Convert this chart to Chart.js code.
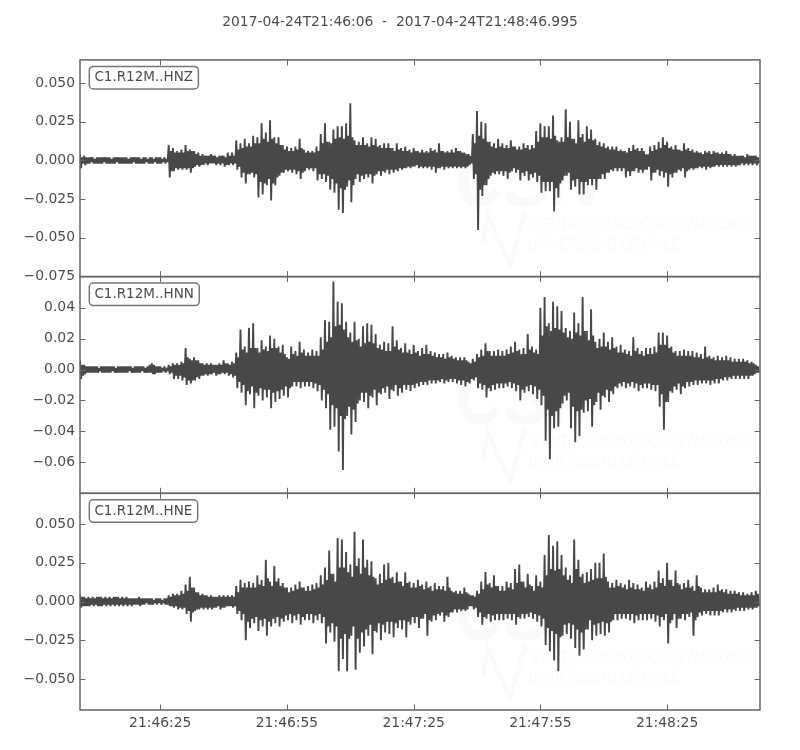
<!DOCTYPE html>
<html>
<head>
<meta charset="utf-8">
<style>
  html, body { margin: 0; padding: 0; background: #fff; }
  canvas { display: block; }
</style>
<script src="https://cdn.jsdelivr.net/npm/chart.js@4/dist/chart.umd.min.js"></script>
</head>
<body>
<div style="width:800px;height:750px"><canvas id="traces" width="800" height="750"></canvas></div>
<script>
const titleText = "2017-04-24T21:46:06  -  2017-04-24T21:48:46.995";
const traceNames = ["C1.R12M..HNZ", "C1.R12M..HNN", "C1.R12M..HNE"];

// per second: the biggest up and down peak
const hnzUpper = [
  .004,.003,.002,.002,.002,.002,.002,.002,.002,.002,
  .002,.002,.002,.002,.002,.002,.001,.002,.002,.002,
  .002,.010,.008,.006,.007,.010,.007,.006,.005,.004,
  .003,.004,.003,.003,.003,.005,.005,.013,.011,.014,
  .011,.016,.015,.024,.018,.026,.015,.015,.010,.009,
  .008,.009,.014,.007,.006,.006,.009,.017,.024,.012,
  .020,.022,.022,.024,.037,.013,.012,.015,.011,.015,
  .014,.010,.011,.011,.008,.011,.008,.009,.007,.008,
  .006,.007,.006,.008,.007,.011,.006,.006,.007,.008,
  .006,.005,.004,.017,.032,.025,.024,.012,.011,.014,
  .011,.010,.013,.009,.009,.011,.010,.010,.019,.024,
  .022,.022,.029,.013,.015,.033,.025,.014,.026,.017,
  .022,.020,.014,.012,.011,.009,.009,.009,.007,.006,
  .008,.010,.008,.008,.004,.009,.010,.012,.015,.012,
  .009,.010,.007,.011,.008,.007,.006,.005,.006,.006,
  .006,.005,.005,.006,.004,.004,.003,.003,.004,.003,.003
];
const hnzLower = [
  -.005,-.003,-.002,-.002,-.002,-.002,-.002,-.002,-.002,-.002,
  -.002,-.002,-.002,-.002,-.002,-.002,-.002,-.002,-.002,-.002,
  -.002,-.011,-.007,-.006,-.006,-.006,-.008,-.004,-.004,-.003,
  -.003,-.002,-.003,-.003,-.004,-.003,-.003,-.006,-.011,-.015,
  -.009,-.011,-.024,-.022,-.016,-.026,-.016,-.010,-.008,-.007,
  -.008,-.009,-.012,-.007,-.006,-.007,-.013,-.012,-.014,-.019,
  -.021,-.032,-.034,-.017,-.027,-.012,-.014,-.012,-.011,-.015,
  -.009,-.010,-.008,-.009,-.008,-.007,-.006,-.005,-.005,-.004,
  -.005,-.005,-.005,-.006,-.008,-.005,-.006,-.005,-.005,-.005,
  -.005,-.005,-.003,-.012,-.045,-.023,-.016,-.010,-.009,-.009,
  -.010,-.012,-.007,-.008,-.013,-.010,-.013,-.011,-.014,-.021,
  -.020,-.020,-.033,-.024,-.013,-.010,-.019,-.017,-.022,-.022,
  -.016,-.016,-.019,-.012,-.012,-.008,-.007,-.007,-.007,-.011,
  -.010,-.007,-.008,-.008,-.006,-.013,-.008,-.010,-.011,-.017,
  -.011,-.008,-.007,-.011,-.006,-.006,-.005,-.005,-.006,-.005,
  -.004,-.004,-.004,-.004,-.004,-.004,-.003,-.003,-.003,-.003,-.003
];
const hnnUpper = [
  .006,.003,.002,.002,.002,.002,.002,.002,.002,.002,
  .002,.002,.002,.002,.002,.002,.002,.004,.002,.002,
  .002,.003,.004,.004,.005,.014,.007,.008,.006,.004,
  .004,.004,.003,.004,.006,.004,.005,.011,.026,.015,
  .027,.030,.014,.019,.015,.022,.020,.015,.016,.008,
  .015,.012,.018,.013,.011,.013,.012,.021,.032,.031,
  .057,.044,.043,.031,.024,.031,.020,.028,.030,.029,
  .023,.016,.018,.017,.028,.019,.014,.017,.013,.016,
  .012,.014,.016,.012,.011,.010,.010,.011,.009,.008,
  .008,.008,.005,.007,.010,.013,.017,.012,.012,.013,
  .012,.013,.015,.018,.013,.014,.023,.015,.013,.040,
  .047,.030,.044,.041,.038,.027,.025,.037,.030,.047,
  .025,.039,.018,.020,.024,.018,.021,.015,.016,.013,
  .012,.021,.014,.012,.014,.014,.015,.024,.024,.022,
  .015,.012,.012,.013,.012,.012,.011,.010,.015,.009,
  .008,.009,.008,.009,.008,.007,.007,.007,.006,.005,.003
];
const hnnLower = [
  -.006,-.003,-.002,-.002,-.002,-.002,-.002,-.002,-.002,-.002,
  -.002,-.002,-.002,-.002,-.002,-.002,-.002,-.003,-.002,-.002,
  -.002,-.003,-.006,-.006,-.007,-.010,-.009,-.007,-.006,-.004,
  -.004,-.003,-.004,-.003,-.003,-.004,-.005,-.012,-.015,-.023,
  -.016,-.025,-.017,-.020,-.018,-.025,-.021,-.019,-.017,-.018,
  -.011,-.011,-.012,-.011,-.011,-.012,-.014,-.020,-.025,-.039,
  -.037,-.053,-.065,-.030,-.042,-.034,-.020,-.021,-.025,-.018,
  -.023,-.016,-.015,-.019,-.014,-.017,-.015,-.013,-.014,-.012,
  -.011,-.010,-.010,-.009,-.009,-.008,-.009,-.008,-.008,-.009,
  -.010,-.011,-.009,-.007,-.012,-.013,-.018,-.014,-.013,-.012,
  -.012,-.011,-.012,-.014,-.020,-.015,-.014,-.016,-.019,-.023,
  -.046,-.058,-.038,-.037,-.022,-.020,-.038,-.047,-.043,-.028,
  -.027,-.037,-.021,-.026,-.018,-.021,-.016,-.012,-.011,-.012,
  -.011,-.012,-.014,-.012,-.012,-.013,-.014,-.024,-.039,-.021,
  -.015,-.013,-.016,-.012,-.011,-.010,-.010,-.009,-.009,-.010,
  -.009,-.009,-.007,-.007,-.006,-.006,-.006,-.006,-.006,-.004,-.002
];
const hneUpper = [
  .004,.003,.003,.003,.003,.003,.003,.003,.003,.003,
  .003,.003,.002,.002,.003,.002,.002,.002,.002,.002,
  .002,.004,.005,.005,.007,.011,.016,.009,.006,.005,
  .004,.004,.003,.004,.004,.004,.004,.010,.014,.012,
  .013,.012,.017,.014,.027,.013,.023,.015,.012,.009,
  .009,.011,.013,.009,.010,.011,.012,.017,.022,.033,
  .018,.041,.040,.032,.024,.045,.028,.040,.027,.026,
  .015,.018,.024,.025,.016,.019,.013,.019,.013,.012,
  .014,.011,.013,.010,.012,.010,.010,.016,.007,.007,
  .007,.009,.005,.004,.007,.013,.019,.012,.017,.010,
  .010,.013,.012,.021,.024,.013,.018,.010,.017,.013,
  .030,.043,.036,.039,.030,.022,.017,.040,.027,.018,
  .019,.021,.025,.025,.031,.013,.012,.014,.012,.011,
  .014,.012,.011,.009,.013,.011,.013,.020,.015,.025,
  .014,.020,.011,.012,.014,.010,.017,.009,.008,.008,
  .009,.011,.008,.008,.007,.007,.006,.006,.005,.006,.007
];
const hneLower = [
  -.004,-.003,-.003,-.003,-.003,-.003,-.003,-.003,-.003,-.003,
  -.003,-.003,-.003,-.002,-.003,-.002,-.002,-.002,-.002,-.002,
  -.002,-.003,-.004,-.005,-.005,-.008,-.013,-.006,-.005,-.005,
  -.005,-.005,-.004,-.005,-.004,-.003,-.004,-.008,-.012,-.025,
  -.017,-.014,-.019,-.016,-.022,-.016,-.014,-.016,-.013,-.012,
  -.014,-.012,-.015,-.012,-.012,-.014,-.012,-.014,-.027,-.020,
  -.026,-.045,-.037,-.045,-.022,-.044,-.033,-.029,-.022,-.034,
  -.020,-.025,-.020,-.021,-.023,-.017,-.018,-.023,-.015,-.014,
  -.017,-.011,-.022,-.013,-.012,-.009,-.013,-.010,-.007,-.007,
  -.006,-.006,-.003,-.005,-.010,-.015,-.011,-.013,-.012,-.012,
  -.012,-.011,-.012,-.015,-.011,-.011,-.010,-.011,-.013,-.016,
  -.028,-.032,-.038,-.045,-.022,-.021,-.024,-.030,-.035,-.031,
  -.018,-.025,-.022,-.021,-.022,-.020,-.012,-.012,-.011,-.011,
  -.012,-.014,-.012,-.012,-.012,-.011,-.013,-.016,-.012,-.027,
  -.012,-.017,-.011,-.012,-.010,-.022,-.010,-.009,-.008,-.009,
  -.009,-.009,-.007,-.007,-.007,-.006,-.006,-.006,-.005,-.005,-.004
];

// per second: the next smaller swing up and down, this is the solid part of the trace
const hnzMidUp = [
  .002,.002,.002,.001,.002,.002,.002,.001,.002,.002,
  .002,.001,.002,.002,.001,.002,.002,.001,.002,.001,
  .001,.006,.005,.005,.005,.006,.006,.004,.003,.003,
  .003,.003,.002,.003,.002,.003,.003,.007,.008,.009,
  .009,.011,.011,.014,.012,.014,.011,.010,.007,.006,
  .006,.007,.008,.005,.005,.005,.006,.011,.012,.011,
  .014,.015,.014,.016,.015,.010,.010,.010,.009,.010,
  .009,.008,.008,.008,.006,.007,.006,.006,.005,.006,
  .005,.005,.005,.006,.005,.006,.005,.005,.005,.006,
  .005,.004,.003,.011,.016,.014,.012,.009,.008,.009,
  .008,.008,.009,.007,.007,.008,.007,.008,.012,.015,
  .015,.014,.016,.012,.012,.015,.014,.011,.015,.012,
  .014,.013,.010,.009,.008,.007,.007,.006,.006,.005,
  .006,.007,.006,.006,.004,.006,.007,.008,.010,.008,
  .007,.007,.006,.007,.006,.005,.005,.004,.005,.004,
  .005,.004,.004,.004,.003,.003,.003,.002,.003,.003,.002
];
const hnzMidLow = [
  -.002,-.002,-.001,-.002,-.002,-.001,-.002,-.002,-.001,-.002,
  -.002,-.002,-.001,-.002,-.002,-.001,-.002,-.001,-.002,-.001,
  -.001,-.007,-.005,-.005,-.005,-.005,-.005,-.003,-.003,-.002,
  -.002,-.002,-.002,-.002,-.003,-.002,-.002,-.004,-.008,-.009,
  -.008,-.009,-.014,-.015,-.012,-.015,-.011,-.008,-.006,-.006,
  -.006,-.007,-.008,-.005,-.005,-.005,-.009,-.009,-.010,-.012,
  -.015,-.018,-.019,-.013,-.016,-.009,-.010,-.009,-.009,-.010,
  -.007,-.007,-.006,-.006,-.006,-.005,-.005,-.004,-.004,-.003,
  -.004,-.004,-.004,-.004,-.005,-.004,-.004,-.004,-.004,-.004,
  -.004,-.004,-.002,-.009,-.019,-.016,-.012,-.008,-.007,-.007,
  -.007,-.008,-.005,-.006,-.008,-.007,-.009,-.008,-.010,-.014,
  -.014,-.014,-.018,-.015,-.010,-.008,-.013,-.012,-.014,-.014,
  -.012,-.012,-.012,-.009,-.008,-.006,-.005,-.005,-.005,-.007,
  -.007,-.005,-.006,-.006,-.004,-.008,-.006,-.007,-.008,-.009,
  -.008,-.006,-.005,-.007,-.005,-.005,-.004,-.004,-.004,-.004,
  -.003,-.003,-.003,-.003,-.003,-.003,-.002,-.002,-.002,-.002,-.002
];
const hnnMidUp = [
  .003,.002,.002,.002,.001,.002,.002,.002,.001,.002,
  .002,.002,.001,.002,.002,.001,.003,.003,.002,.001,
  .001,.002,.003,.003,.004,.008,.006,.006,.004,.003,
  .003,.003,.003,.003,.004,.003,.004,.008,.013,.011,
  .014,.014,.011,.013,.012,.014,.014,.011,.010,.007,
  .010,.009,.011,.009,.009,.009,.009,.013,.018,.021,
  .028,.029,.026,.021,.018,.019,.015,.017,.018,.017,
  .014,.013,.012,.012,.015,.013,.011,.011,.010,.011,
  .009,.010,.010,.009,.008,.008,.007,.008,.007,.006,
  .006,.006,.004,.005,.008,.009,.012,.009,.009,.009,
  .009,.010,.011,.012,.010,.010,.013,.011,.010,.022,
  .028,.025,.027,.026,.024,.021,.020,.024,.022,.025,
  .019,.022,.014,.015,.015,.013,.014,.011,.011,.010,
  .009,.012,.010,.009,.010,.010,.011,.016,.016,.014,
  .011,.009,.009,.009,.009,.008,.008,.007,.008,.007,
  .006,.006,.006,.006,.005,.005,.005,.005,.004,.004,.002
];
const hnnMidLow = [
  -.004,-.002,-.002,-.002,-.001,-.002,-.002,-.001,-.002,-.002,
  -.002,-.001,-.002,-.002,-.001,-.002,-.002,-.003,-.002,-.001,
  -.001,-.002,-.004,-.004,-.005,-.007,-.007,-.005,-.004,-.003,
  -.003,-.002,-.003,-.002,-.002,-.003,-.004,-.008,-.010,-.014,
  -.011,-.015,-.012,-.013,-.013,-.015,-.014,-.013,-.011,-.012,
  -.008,-.008,-.008,-.008,-.008,-.009,-.010,-.013,-.016,-.023,
  -.025,-.030,-.032,-.024,-.026,-.022,-.015,-.015,-.017,-.013,
  -.015,-.012,-.011,-.013,-.010,-.012,-.010,-.010,-.010,-.009,
  -.008,-.008,-.007,-.007,-.007,-.006,-.007,-.006,-.006,-.007,
  -.007,-.008,-.006,-.005,-.009,-.010,-.012,-.010,-.009,-.009,
  -.009,-.008,-.009,-.010,-.013,-.011,-.010,-.011,-.013,-.017,
  -.026,-.030,-.027,-.025,-.017,-.015,-.024,-.027,-.026,-.020,
  -.019,-.023,-.015,-.017,-.013,-.014,-.011,-.009,-.008,-.009,
  -.008,-.009,-.010,-.009,-.009,-.010,-.010,-.016,-.021,-.014,
  -.011,-.009,-.011,-.008,-.008,-.007,-.007,-.007,-.007,-.007,
  -.006,-.006,-.005,-.005,-.004,-.004,-.004,-.004,-.004,-.003,-.002
];
const hneMidUp = [
  .003,.002,.002,.002,.003,.002,.002,.002,.003,.002,
  .002,.002,.002,.002,.002,.002,.002,.001,.002,.001,
  .002,.003,.004,.004,.005,.007,.009,.006,.004,.004,
  .003,.003,.003,.003,.003,.003,.003,.006,.009,.009,
  .009,.009,.011,.010,.015,.010,.013,.010,.009,.006,
  .007,.008,.009,.007,.007,.008,.009,.011,.014,.018,
  .013,.022,.022,.019,.016,.023,.018,.022,.017,.016,
  .011,.012,.014,.015,.012,.013,.010,.012,.009,.009,
  .010,.008,.009,.007,.008,.008,.007,.009,.006,.005,
  .005,.006,.004,.003,.005,.008,.011,.009,.010,.007,
  .007,.009,.008,.012,.013,.009,.011,.007,.010,.009,
  .017,.021,.020,.021,.017,.014,.012,.021,.016,.012,
  .013,.014,.015,.015,.016,.009,.009,.010,.009,.008,
  .009,.008,.008,.007,.009,.008,.009,.012,.010,.014,
  .010,.012,.008,.009,.009,.007,.010,.006,.006,.006,
  .006,.007,.006,.005,.005,.005,.004,.004,.004,.004,.005
];
const hneMidLow = [
  -.003,-.003,-.002,-.002,-.003,-.002,-.002,-.002,-.002,-.002,
  -.002,-.002,-.002,-.002,-.002,-.001,-.002,-.001,-.001,-.001,
  -.002,-.003,-.003,-.004,-.004,-.006,-.007,-.005,-.004,-.004,
  -.004,-.004,-.003,-.004,-.003,-.003,-.003,-.006,-.008,-.013,
  -.011,-.010,-.012,-.011,-.013,-.011,-.010,-.011,-.009,-.008,
  -.009,-.008,-.010,-.008,-.008,-.009,-.008,-.010,-.016,-.014,
  -.016,-.024,-.021,-.024,-.016,-.024,-.020,-.018,-.015,-.019,
  -.014,-.015,-.013,-.013,-.014,-.012,-.012,-.013,-.010,-.010,
  -.011,-.008,-.012,-.009,-.008,-.007,-.009,-.007,-.005,-.005,
  -.005,-.005,-.003,-.004,-.007,-.010,-.008,-.009,-.008,-.008,
  -.008,-.008,-.008,-.010,-.008,-.008,-.007,-.008,-.009,-.011,
  -.017,-.019,-.021,-.023,-.015,-.014,-.015,-.018,-.020,-.018,
  -.012,-.015,-.014,-.013,-.014,-.013,-.008,-.008,-.008,-.008,
  -.008,-.009,-.008,-.008,-.008,-.008,-.009,-.010,-.008,-.014,
  -.008,-.011,-.008,-.008,-.007,-.012,-.007,-.006,-.006,-.006,
  -.006,-.006,-.005,-.005,-.005,-.004,-.004,-.004,-.004,-.004,-.003
];

const hnzTicks = [0.05, 0.025, 0, -0.025, -0.05, -0.075];
const hnnTicks = [0.04, 0.02, 0, -0.02, -0.04, -0.06];
const hneTicks = [0.05, 0.025, 0, -0.025, -0.05];
const timeTicks = [19, 49, 79, 109, 139];
const timeLabels = ["21:46:25", "21:46:55", "21:47:25", "21:47:55", "21:48:25"];

const inkColor = "#484848";
const textColor = "#4d4d4d";
const frameColor = "#666666";
const fontFamily = "'DejaVu Sans', sans-serif";

// each second holds four swings, a quarter of a second apart
function zigzag(upper, lower, midUp, midLow) {
  const pts = [];
  upper.forEach((u, i) => {
    pts.push({ x: i, y: u });
    pts.push({ x: i + 0.25, y: lower[i] });
    pts.push({ x: i + 0.5, y: midUp[i] });
    pts.push({ x: i + 0.75, y: midLow[i] });
  });
  return pts;
}

function traceSet(points, axis) {
  return {
    data: points,
    yAxisID: axis,
    borderColor: inkColor,
    borderWidth: 1.9,
    borderJoinStyle: "bevel",
    pointRadius: 0,
    tension: 0,
    fill: false
  };
}

function yScale(min, max, values, order) {
  return {
    position: "left",
    stack: "traces",
    stackWeight: 1,
    weight: order,
    min: min,
    max: max,
    grid: { display: false, tickLength: 0 },
    border: { display: false },
    afterBuildTicks: s => { s.ticks = values.map(v => ({ value: v })); },
    afterFit: s => { s.width = 80; },
    ticks: {
      autoSkip: false,
      padding: 5,
      color: textColor,
      font: { family: fontFamily, size: 13.9 },
      callback: v => (v < 0 ? "\u2212" : "") + Math.abs(v).toFixed(values.some(t => Math.abs(t * 100) % 1 > 0.001) ? 3 : 2)
    }
  };
}

// frame, inward ticks, station label box and the faint logo behind the trace
const panelPlugin = {
  id: "panels",
  beforeDatasetsDraw(chart) {
    const ctx = chart.ctx;
    ["yz", "yn", "ye"].forEach(id => {
      const top = chart.scales[id].top;
      ctx.save();
      ctx.fillStyle = "#fafafa";
      ctx.font = "italic bold 78px 'Liberation Sans'";
      ctx.textBaseline = "alphabetic";
      ctx.fillText("CSN", 455, top + 146, 145);
      ctx.font = "italic 17px 'Liberation Sans'";
      ctx.fillText("CENTRO SISMOLÓGICO NACIONAL", 532, top + 170, 223);
      ctx.fillText("UNIVERSIDAD DE CHILE", 528, top + 190, 152);
      ctx.strokeStyle = "#fafafa";
      ctx.lineWidth = 4;
      ctx.beginPath();
      ctx.moveTo(483, top + 182);
      ctx.lineTo(488, top + 155);
      ctx.lineTo(510, top + 205);
      ctx.lineTo(526, top + 150);
      ctx.stroke();
      ctx.restore();
    });
  },
  afterDatasetsDraw(chart) {
    const ctx = chart.ctx, area = chart.chartArea, xs = chart.scales.x;
    const len = 5.5;
    ["yz", "yn", "ye"].forEach((id, n) => {
      const ys = chart.scales[id];
      ctx.save();
      ctx.strokeStyle = frameColor;
      ctx.lineWidth = 1;
      ctx.beginPath();
      ys.ticks.forEach(t => {
        const y = Math.round(ys.getPixelForValue(t.value)) + 0.5;
        ctx.moveTo(area.left, y); ctx.lineTo(area.left + len, y);
        ctx.moveTo(area.right, y); ctx.lineTo(area.right - len, y);
      });
      xs.ticks.forEach(t => {
        const x = Math.round(xs.getPixelForValue(t.value)) + 0.5;
        ctx.moveTo(x, ys.top); ctx.lineTo(x, ys.top + len);
        ctx.moveTo(x, ys.bottom); ctx.lineTo(x, ys.bottom - len);
      });
      ctx.stroke();
      ctx.lineWidth = 1.5;
      ctx.strokeRect(area.left, ys.top, area.right - area.left, ys.bottom - ys.top);

      ctx.font = "13.5px " + fontFamily;
      const w = ctx.measureText(traceNames[n]).width;
      ctx.fillStyle = "#ffffff";
      ctx.strokeStyle = "#777777";
      ctx.beginPath();
      ctx.roundRect(area.left + 9.3, ys.top + 6.5, w + 10.5, 22.5, 4);
      ctx.fill();
      ctx.stroke();
      ctx.fillStyle = textColor;
      ctx.textBaseline = "middle";
      ctx.fillText(traceNames[n], area.left + 14.4, ys.top + 18);
      ctx.restore();
    });
  }
};

new Chart(document.getElementById("traces"), {
  type: "line",
  data: {
    datasets: [
      traceSet(zigzag(hnzUpper, hnzLower, hnzMidUp, hnzMidLow), "yz"),
      traceSet(zigzag(hnnUpper, hnnLower, hnnMidUp, hnnMidLow), "yn"),
      traceSet(zigzag(hneUpper, hneLower, hneMidUp, hneMidLow), "ye")
    ]
  },
  plugins: [panelPlugin],
  options: {
    responsive: false,
    animation: false,
    parsing: false,
    normalized: true,
    plugins: {
      legend: { display: false },
      tooltip: { enabled: false },
      title: {
        display: true,
        text: titleText,
        color: textColor,
        font: { family: fontFamily, size: 13.85, weight: "normal", lineHeight: 1.2 },
        padding: { top: 14, bottom: 29.3 }
      }
    },
    scales: {
      x: {
        type: "linear",
        min: 0,
        max: 160.995,
        grid: { display: false, tickLength: 0 },
        border: { display: false },
        afterBuildTicks: s => { s.ticks = timeTicks.map(v => ({ value: v })); },
        afterFit: s => { s.height = 40; },
        ticks: {
          autoSkip: false,
          maxRotation: 0,
          padding: 5,
          color: textColor,
          font: { family: fontFamily, size: 13.9 },
          callback: v => timeLabels[timeTicks.indexOf(v)]
        }
      },
      yz: yScale(-0.0752, 0.065, hnzTicks, 3),
      yn: yScale(-0.0801, 0.0602, hnnTicks, 2),
      ye: yScale(-0.07, 0.0699, hneTicks, 1),
      // empty right margin so the title centres on the whole page
      margin: {
        position: "right",
        grid: { display: false },
        border: { display: false },
        ticks: { display: false },
        afterFit: s => { s.width = 40; }
      }
    }
  }
});
</script>
</body>
</html>
